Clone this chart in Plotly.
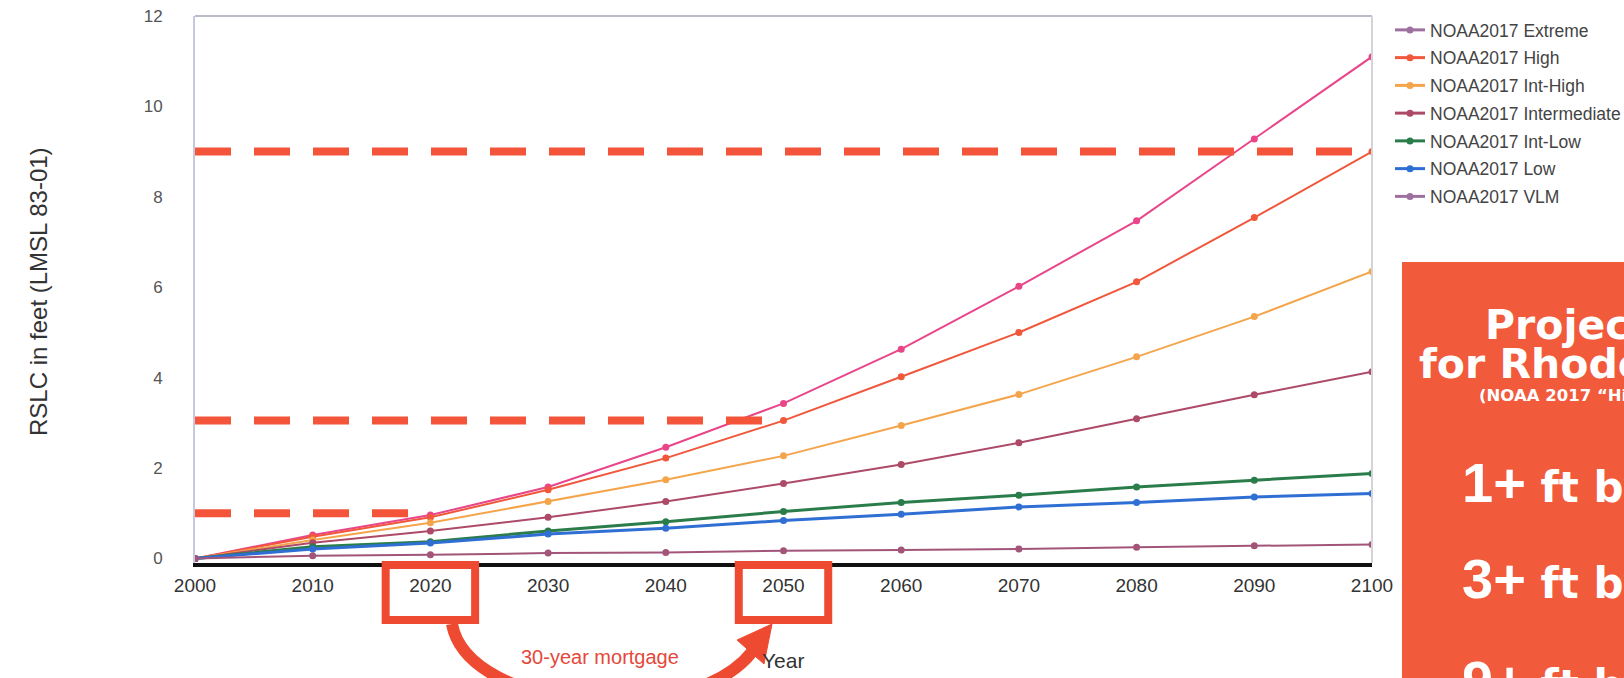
import plotly.graph_objects as go

# Relative sea level change projections (feet, LMSL 83-01)
years = [2000, 2010, 2020, 2030, 2040, 2050, 2060, 2070, 2080, 2090, 2100]
extreme = [0, 0.52, 0.96, 1.58, 2.46, 3.43, 4.63, 6.02, 7.47, 9.28, 11.1]
high = [0, 0.48, 0.91, 1.52, 2.22, 3.05, 4.02, 5.0, 6.12, 7.54, 9.0]
int_high = [0, 0.41, 0.79, 1.26, 1.74, 2.27, 2.94, 3.63, 4.46, 5.35, 6.35]
intermediate = [0, 0.35, 0.61, 0.91, 1.26, 1.66, 2.08, 2.56, 3.09, 3.62, 4.13]
int_low = [0, 0.26, 0.37, 0.61, 0.81, 1.04, 1.24, 1.40, 1.58, 1.73, 1.88]
low = [0, 0.21, 0.34, 0.54, 0.67, 0.84, 0.98, 1.14, 1.24, 1.36, 1.44]
vlm = [0, 0.06, 0.08, 0.12, 0.13, 0.17, 0.19, 0.21, 0.25, 0.28, 0.31]

scenario_names = ["NOAA2017 Extreme", "NOAA2017 High", "NOAA2017 Int-High",
                  "NOAA2017 Intermediate", "NOAA2017 Int-Low", "NOAA2017 Low",
                  "NOAA2017 VLM"]
scenario_values = [extreme, high, int_high, intermediate, int_low, low, vlm]
line_colors = ["#e9468a", "#f0573b", "#f4a54c", "#ad4a68", "#2a7d4a", "#2f6fd4", "#a35579"]
legend_colors = ["#9d70a0", "#f0573b", "#f4a54c", "#ad4a68", "#2a7d4a", "#2f6fd4", "#9d70a0"]
line_widths = [2, 2, 2, 2, 3, 3, 2]

# Threshold levels reached on the High curve
threshold_ft = [1.0, 3.05, 9.0]
threshold_year = [2020, 2050, 2100]
boxed_years = [2020, 2050]

x_ticks = list(range(2000, 2101, 10))
y_ticks = [0, 2, 4, 6, 8, 10, 12]

W, H = 1624, 678
L, R, T, B = 195, 1372, 16, 563
RED = "#ee4a31"


def px(x):
    return (x - L) / (R - L)


def py(y):
    return (B - y) / (B - T)


fig = go.Figure()

for name, vals, col, lw in zip(scenario_names, scenario_values, line_colors, line_widths):
    fig.add_trace(go.Scatter(
        x=years, y=vals, mode="lines+markers", name=name, showlegend=False,
        line=dict(color=col, width=lw), marker=dict(color=col, size=7),
    ))

# Dashed threshold lines from 2000 to the year each level is reached
for v, yr in zip(threshold_ft, threshold_year):
    fig.add_trace(go.Scatter(
        x=[years[0], yr], y=[v, v], mode="lines", showlegend=False, hoverinfo="skip",
        line=dict(color="#f4553a", width=8, dash="36px,23px"),
    ))

# Legend entries
for name, col in zip(scenario_names, legend_colors):
    fig.add_trace(go.Scatter(
        x=[None], y=[None], mode="lines+markers", name=name, legendgroup=name,
        line=dict(color=col, width=3), marker=dict(color=col, size=7),
    ))

shapes = []
# light frame on top and right
shapes.append(dict(type="line", xref="paper", yref="paper", x0=0, x1=1, y0=1, y1=1,
                   line=dict(color="#b9bcc8", width=2)))
shapes.append(dict(type="line", xref="paper", yref="paper", x0=1, x1=1, y0=0, y1=1,
                   line=dict(color="#d4d4d8", width=2)))

# red boxes around highlighted tick years
for yr in boxed_years:
    shapes.append(dict(type="rect", xref="x", yref="paper",
                       x0=yr - 3.8, x1=yr + 3.8, y0=py(620), y1=py(565),
                       line=dict(color=RED, width=8), fillcolor="rgba(0,0,0,0)"))

# curved arrow between the boxed years
p0 = (452, 624)
c1 = (468, 712)
c2 = (690, 730)
p1 = (752, 652)
path = "M {},{} C {},{} {},{} {},{}".format(
    px(p0[0]), py(p0[1]), px(c1[0]), py(c1[1]), px(c2[0]), py(c2[1]), px(p1[0]), py(p1[1]))
shapes.append(dict(type="path", xref="paper", yref="paper", path=path,
                   line=dict(color=RED, width=12)))
head = [(772, 624), (737, 640), (764, 664)]
hpath = "M {},{} L {},{} L {},{} Z".format(*[c for pt in head for c in (px(pt[0]), py(pt[1]))])
shapes.append(dict(type="path", xref="paper", yref="paper", path=hpath,
                   fillcolor=RED, line=dict(color=RED, width=1)))

# orange panel on the right
shapes.append(dict(type="rect", xref="paper", yref="paper",
                   x0=px(1402), x1=px(1760), y0=py(262), y1=py(720),
                   fillcolor="#f25a3c", line=dict(width=0), layer="above"))

annotations = []
annotations.append(dict(text="Year", xref="paper", yref="paper", x=px(783), y=py(660),
                        xanchor="center", yanchor="middle",
                        showarrow=False, font=dict(size=21, color="#333")))
annotations.append(dict(text="RSLC in feet (LMSL 83-01)", xref="paper", yref="paper",
                        x=px(38), y=py(292), xanchor="center", yanchor="middle",
                        textangle=-90, showarrow=False,
                        font=dict(size=24, color="#333")))
annotations.append(dict(text="30-year mortgage", xref="paper", yref="paper",
                        x=px(600), y=py(657), xanchor="center", yanchor="middle",
                        showarrow=False, font=dict(size=20, color="#e5483a")))

white = "#ffffff"
wide_bold = "DejaVu Sans, Liberation Sans, sans-serif"
panel_lines = [
    ("Projections", 1483, 325, 41),
    ("for Rhode Island", 1417, 364, 41),
    ("(NOAA 2017 \u201cHigh\u201d Scenario)", 1477, 396, 16.5),
]
for txt, xl, yc, fs in panel_lines:
    annotations.append(dict(text="<b>" + txt + "</b>", xref="paper", yref="paper",
                            x=px(xl), y=py(yc), xanchor="left", yanchor="middle",
                            showarrow=False, font=dict(size=fs, color=white, family=wide_bold)))
big_lines = [("1+", "ft by 2020", 482), ("3+", "ft by 2050", 578), ("9+", "ft by 2100", 680)]
for big, rest, yc in big_lines:
    annotations.append(dict(
        text="<b><span style='font-size:56px;font-family:Liberation Sans, Arial, sans-serif'>"
             + big + "</span> " + rest + "</b>",
        xref="paper", yref="paper", x=px(1460), y=py(yc), xanchor="left", yanchor="middle",
        showarrow=False, font=dict(size=42, color=white, family=wide_bold)))

fig.update_layout(
    width=W, height=H,
    margin=dict(l=L, r=W - R, t=T, b=H - B, autoexpand=False),
    paper_bgcolor="white", plot_bgcolor="white",
    font=dict(family="Liberation Sans, Arial, sans-serif"),
    showlegend=True,
    legend=dict(x=px(1390), y=py(12), xanchor="left", yanchor="top",
                font=dict(size=17.5, color="#444"), traceorder="grouped",
                tracegroupgap=2, bgcolor="rgba(0,0,0,0)"),
    xaxis=dict(range=[2000, 2100], tickvals=x_ticks, showgrid=False, zeroline=False,
               showline=True, linecolor="#111", linewidth=4, automargin=False,
               tickfont=dict(size=19, color="#333"), ticklabelstandoff=2),
    yaxis=dict(range=[-0.1, 12], tickvals=y_ticks, showgrid=False, zeroline=False,
               showline=True, linecolor="#c6c9de", linewidth=2, automargin=False,
               tickfont=dict(size=17, color="#555"), ticklabelstandoff=27),
    shapes=shapes, annotations=annotations,
)

fig.write_html("out.html")
